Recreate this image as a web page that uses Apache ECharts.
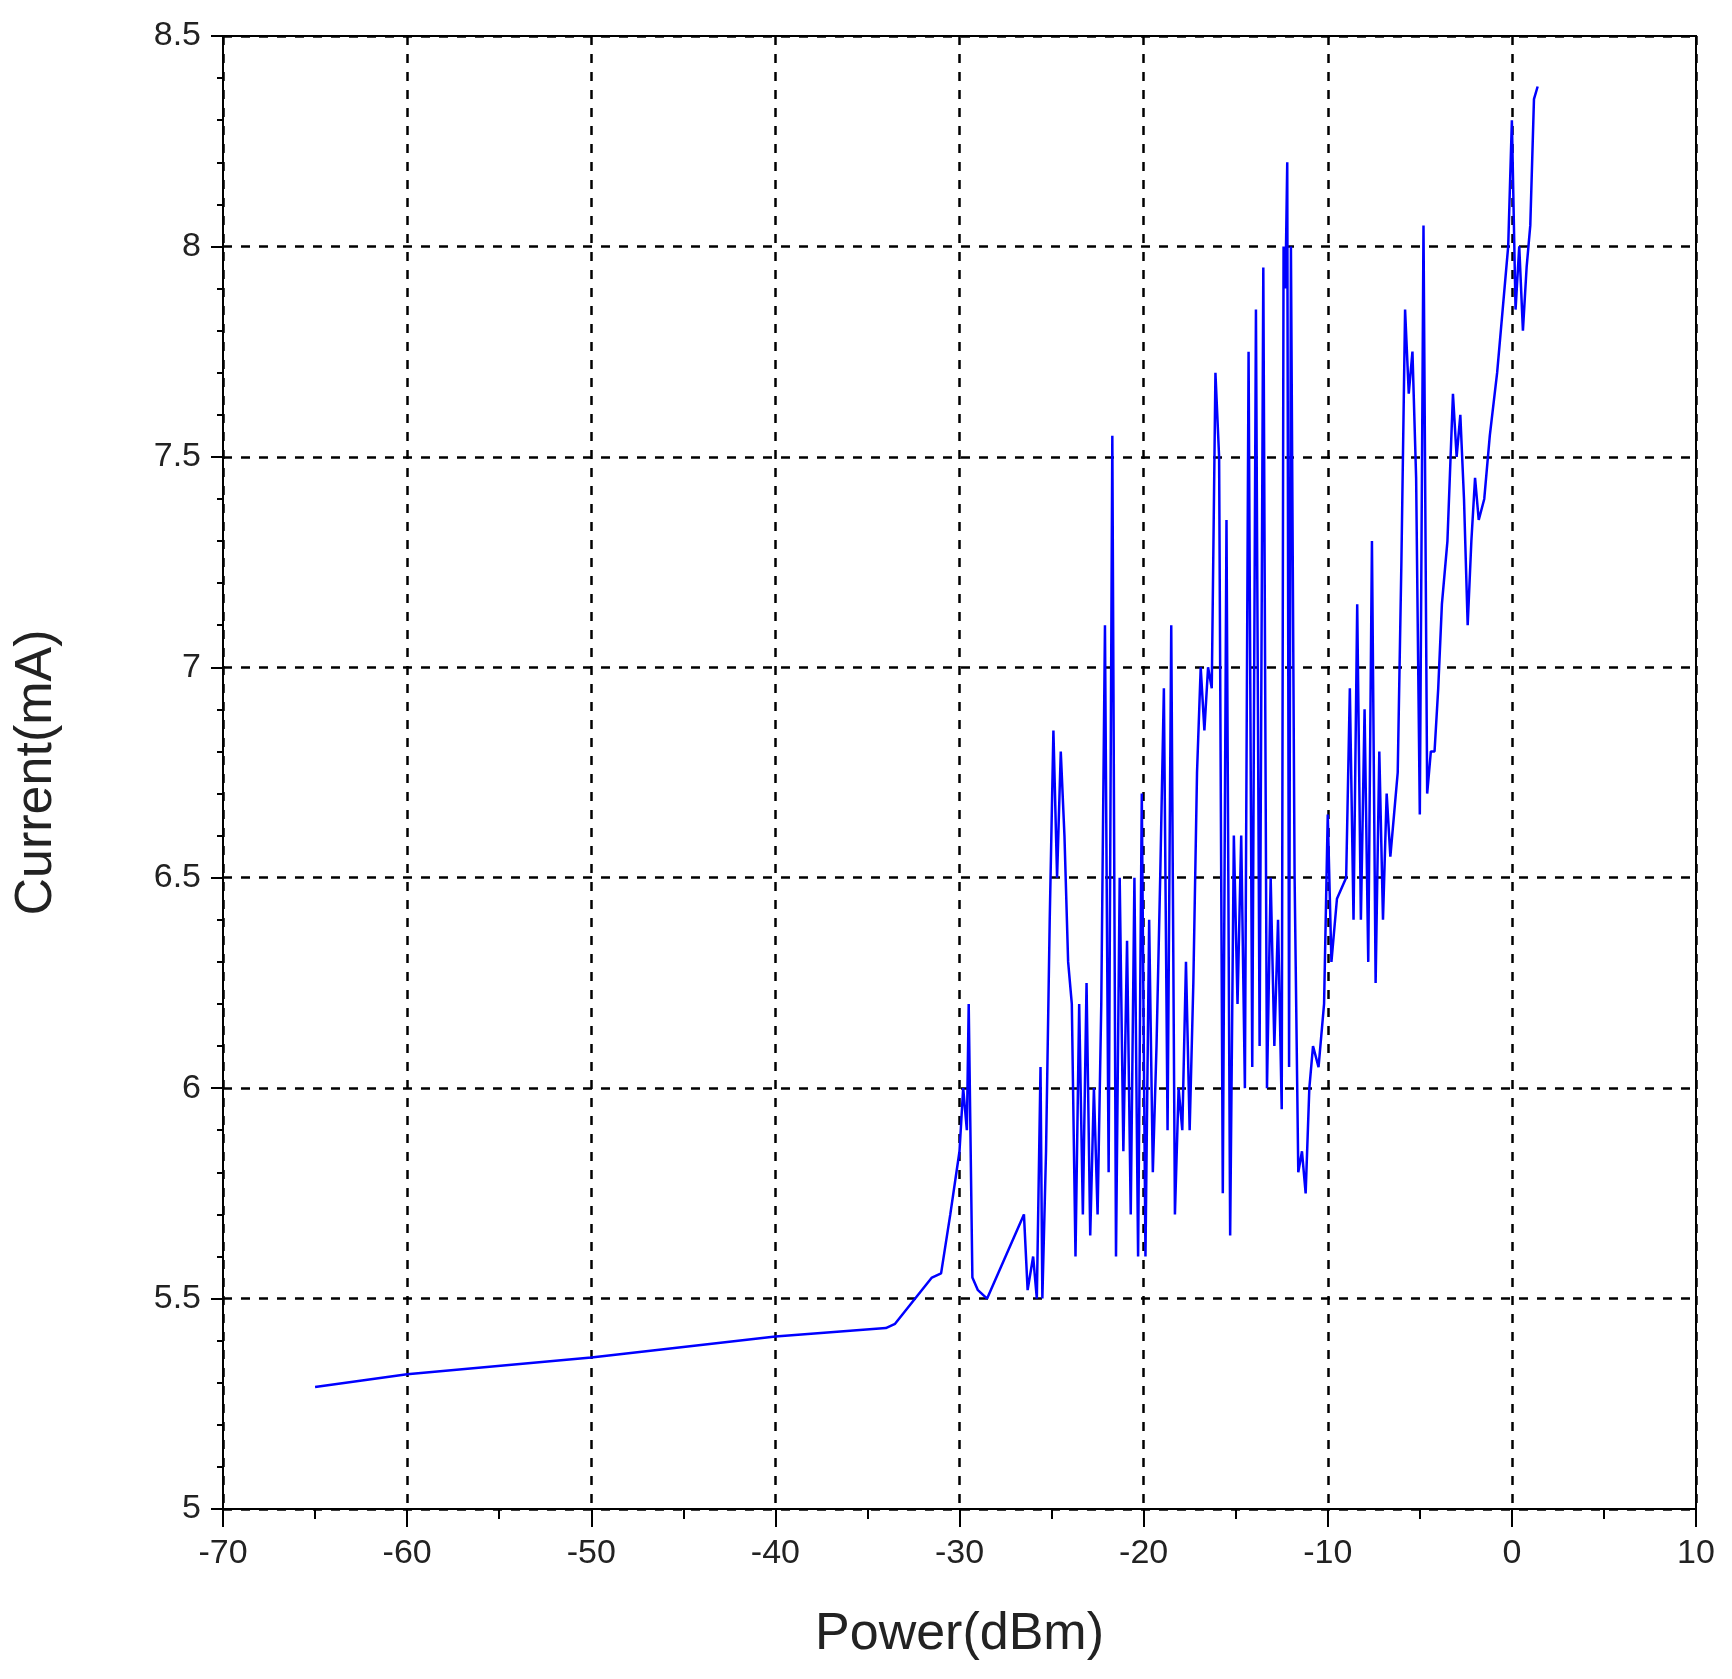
<!DOCTYPE html>
<html><head><meta charset="utf-8">
<script src="https://cdn.jsdelivr.net/npm/echarts@6/dist/echarts.min.js"></script>
<style>html,body{margin:0;background:#fff}#c{width:1732px;height:1679px}</style>
</head><body><div id="c"></div>
<script>
var powerX = [-65,-60,-50,-40,-34,-33.5,-31.5,-31,-30.5,-30,-29.8,-29.6,-29.5,-29.3,-29,-28.5,-26.5,-26.3,-26,-25.8,-25.6,-25.5,-25.3,-25.1,-24.9,-24.7,-24.5,-24.3,-24.1,-23.9,-23.7,-23.5,-23.3,-23.1,-22.9,-22.7,-22.5,-22.3,-22.1,-21.9,-21.7,-21.5,-21.3,-21.1,-20.9,-20.7,-20.5,-20.3,-20.1,-19.9,-19.7,-19.5,-19.3,-19.1,-18.9,-18.7,-18.5,-18.3,-18.1,-17.9,-17.7,-17.5,-17.3,-17.1,-16.9,-16.7,-16.5,-16.3,-16.1,-15.9,-15.7,-15.5,-15.3,-15.1,-14.9,-14.7,-14.5,-14.3,-14.1,-13.9,-13.7,-13.5,-13.3,-13.1,-12.9,-12.7,-12.5,-12.4,-12.3,-12.2,-12.1,-12.0,-11.8,-11.6,-11.4,-11.2,-11.0,-10.8,-10.5,-10.2,-10,-9.8,-9.5,-9,-8.8,-8.6,-8.4,-8.2,-8,-7.8,-7.6,-7.4,-7.2,-7,-6.8,-6.6,-6.4,-6.2,-6,-5.8,-5.6,-5.4,-5.2,-5,-4.8,-4.6,-4.4,-4.2,-4,-3.8,-3.5,-3.2,-3,-2.8,-2.6,-2.4,-2.2,-2,-1.8,-1.5,-1.2,-0.8,-0.5,-0.2,0,0.2,0.4,0.6,0.8,1.0,1.2,1.4];
var currentY = [5.29,5.32,5.36,5.41,5.43,5.44,5.55,5.56,5.7,5.85,6.0,5.9,6.2,5.55,5.52,5.5,5.7,5.52,5.6,5.5,6.05,5.5,5.85,6.4,6.85,6.5,6.8,6.6,6.3,6.2,5.6,6.2,5.7,6.25,5.65,6.0,5.7,6.2,7.1,5.8,7.55,5.6,6.5,5.85,6.35,5.7,6.5,5.6,6.7,5.6,6.4,5.8,6.1,6.5,6.95,5.9,7.1,5.7,6.0,5.9,6.3,5.9,6.25,6.75,7.0,6.85,7.0,6.95,7.7,7.5,5.75,7.35,5.65,6.6,6.2,6.6,6.0,7.75,6.05,7.85,6.1,7.95,6.0,6.5,6.1,6.4,5.95,8.0,7.9,8.2,6.05,8.0,6.5,5.8,5.85,5.75,6.0,6.1,6.05,6.2,6.65,6.3,6.45,6.5,6.95,6.4,7.15,6.4,6.9,6.3,7.3,6.25,6.8,6.4,6.7,6.55,6.65,6.75,7.25,7.85,7.65,7.75,7.45,6.65,8.05,6.7,6.8,6.8,6.95,7.15,7.3,7.65,7.5,7.6,7.4,7.1,7.3,7.45,7.35,7.4,7.55,7.7,7.85,8.0,8.3,7.85,8.0,7.8,7.95,8.05,8.35,8.38];
var pts = powerX.map(function(x, i){ return [x, currentY[i]]; });

var chart = echarts.init(document.getElementById('c'));
var font = 'Liberation Sans, Arial, sans-serif';
var grid = {lineStyle:{color:'#000', type:[9,9], width:2.5}};
chart.setOption({
  animation:false,
  grid:{left:223, top:36, width:1473, height:1473, show:true, borderColor:'#000', borderWidth:2},
  xAxis:{type:'value', min:-70, max:10, interval:10,
    name:'Power(dBm)', nameLocation:'middle', nameGap:100,
    nameTextStyle:{fontSize:52, color:'#222', fontFamily:font},
    axisLine:{onZero:false, lineStyle:{color:'#000', width:2}},
    axisTick:{show:true, length:18, lineStyle:{color:'#000', width:2}},
    minorTick:{show:true, splitNumber:2, length:10, lineStyle:{color:'#000', width:2}},
    axisLabel:{fontSize:34, color:'#222', fontFamily:font, margin:28},
    splitLine:Object.assign({show:true}, grid)},
  yAxis:{type:'value', min:5, max:8.5, interval:0.5,
    name:'Current(mA)', nameLocation:'middle', nameGap:160, nameRotate:90,
    nameTextStyle:{fontSize:52, color:'#222', fontFamily:font},
    axisLine:{onZero:false, lineStyle:{color:'#000', width:2}},
    axisTick:{show:true, length:12, lineStyle:{color:'#000', width:2}},
    minorTick:{show:true, splitNumber:5, length:6, lineStyle:{color:'#000', width:2}},
    axisLabel:{fontSize:34, color:'#222', fontFamily:font, margin:22,
      formatter:function(v){ return String(v); }},
    splitLine:Object.assign({show:true}, grid)},
  series:[{type:'line', data:pts, showSymbol:false, lineStyle:{color:'#0000ff', width:2.5}}]
});
</script></body></html>
